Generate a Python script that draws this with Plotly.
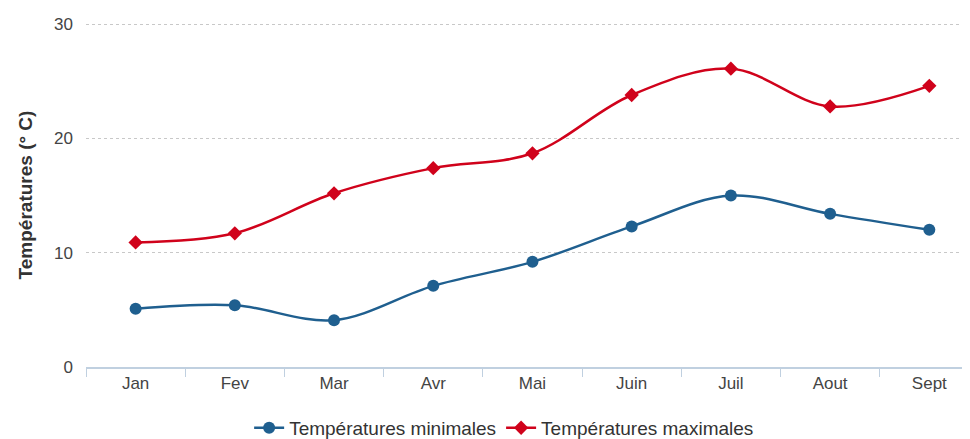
import plotly.graph_objects as go

mois = ["Jan", "Fev", "Mar", "Avr", "Mai", "Juin", "Juil", "Aout", "Sept"]
temp_min = [5.1, 5.4, 4.1, 7.1, 9.2, 12.3, 15.0, 13.4, 12.0]
temp_max = [10.9, 11.7, 15.2, 17.4, 18.7, 23.8, 26.1, 22.8, 24.6]
y_ticks = [0, 10, 20, 30]

fig = go.Figure()
fig.add_trace(go.Scatter(
    x=mois, y=temp_min, name="Températures minimales",
    mode="lines+markers", line=dict(color="#1f5f8f", width=2.5, shape="spline", smoothing=1),
    marker=dict(symbol="circle", size=12, color="#1f5f8f"),
))
fig.add_trace(go.Scatter(
    x=mois, y=temp_max, name="Températures maximales",
    mode="lines+markers", line=dict(color="#d0021b", width=2.5, shape="spline", smoothing=1),
    marker=dict(symbol="diamond", size=11, color="#d0021b"),
))

# page body has an 8px default margin: figure is sized/offset to compensate
fig.update_layout(
    width=962, height=431,
    margin=dict(l=78, r=0, t=15, b=72, autoexpand=False),
    paper_bgcolor="white", plot_bgcolor="white",
    font=dict(family="Liberation Sans, Arial, sans-serif", color="#444"),
    showlegend=True,
    legend=dict(orientation="h", x=0.473, xanchor="center", y=-0.177, yanchor="middle",
                font=dict(size=19, color="#333"), tracegroupgap=0),
    xaxis=dict(
        type="category", range=[-0.5, 8.41],
        showline=True, linecolor="#c0d0e0", linewidth=1.5,
        ticks="outside", tickson="boundaries", ticklen=8, tickcolor="#c0d0e0",
        showgrid=False, tickfont=dict(size=17, color="#444"),
        fixedrange=True,
    ),
    yaxis=dict(
        range=[0, 30.1], tickvals=y_ticks,
        showgrid=True, gridcolor="#c8c8c8", griddash="dot", gridwidth=1,
        zeroline=False, showline=False,
        tickfont=dict(size=17, color="#444"), ticklabelstandoff=12,
        title=dict(text="<b>Températures (° C)</b>", font=dict(size=19, color="#333"), standoff=16),
    ),
)

fig.write_html("out.html")
